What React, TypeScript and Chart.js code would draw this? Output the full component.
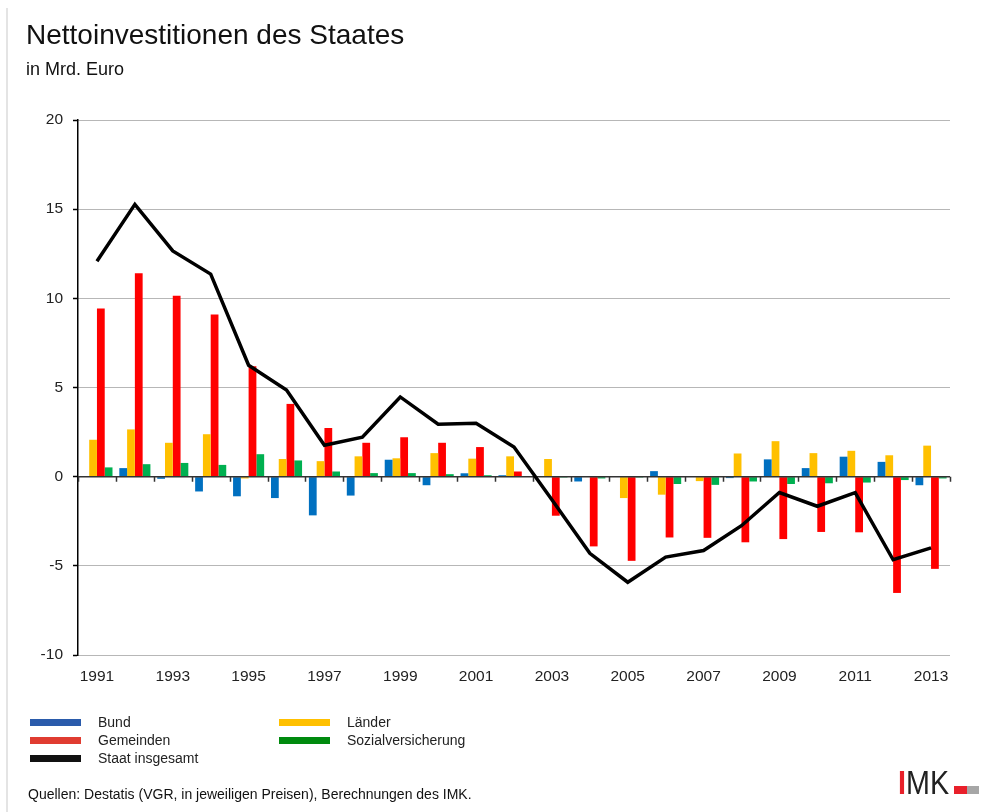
import React, { useEffect, useRef } from "react";
import { Chart, registerables } from "chart.js";

Chart.register(...registerables);

const FONT = '"Liberation Sans", Arial, Helvetica, sans-serif';

const years = [
  "1991", "1992", "1993", "1994", "1995", "1996", "1997", "1998", "1999", "2000",
  "2001", "2002", "2003", "2004", "2005", "2006", "2007", "2008", "2009", "2010",
  "2011", "2012", "2013",
];

const bund = [0, 0.48, -0.12, -0.83, -1.1, -1.2, -2.17, -1.06, 0.95, -0.48, 0.19, 0.08, 0, -0.27, 0, 0.31, 0, -0.08, 0.97, 0.48, 1.12, 0.83, -0.48];
const laender = [2.07, 2.65, 1.9, 2.38, -0.1, 0.99, 0.87, 1.14, 1.03, 1.32, 1.01, 1.14, 0.99, -0.03, -1.2, -1.01, -0.25, 1.3, 1.99, 1.32, 1.45, 1.2, 1.74];
const gemeinden = [9.43, 11.4, 10.14, 9.1, 6.19, 4.08, 2.73, 1.9, 2.21, 1.9, 1.66, 0.29, -2.19, -3.91, -4.72, -3.41, -3.43, -3.68, -3.5, -3.1, -3.12, -6.52, -5.17];
const sozial = [0.52, 0.7, 0.77, 0.66, 1.26, 0.91, 0.29, 0.2, 0.2, 0.14, 0.08, 0.03, -0.05, -0.1, -0.05, -0.41, -0.46, -0.27, -0.41, -0.37, -0.33, -0.19, -0.1];
const staat = [12.08, 15.27, 12.66, 11.36, 6.25, 4.86, 1.76, 2.21, 4.47, 2.94, 3.0, 1.66, -1.3, -4.3, -5.92, -4.51, -4.14, -2.75, -0.89, -1.66, -0.89, -4.66, -3.99];

const yMin = -10;
const yMax = 20;
const yStep = 5;

const title = "Nettoinvestitionen des Staates";
const subtitle = "in Mrd. Euro";
const source = "Quellen: Destatis (VGR, in jeweiligen Preisen), Berechnungen des IMK.";

const barSeries = [
  { label: "Bund", data: bund, color: "#0070C0", legendColor: "#2A5BAB" },
  { label: "Länder", data: laender, color: "#FFC000", legendColor: "#FFC000" },
  { label: "Gemeinden", data: gemeinden, color: "#FF0000", legendColor: "#E03C31" },
  { label: "Sozialversicherung", data: sozial, color: "#00B050", legendColor: "#008A0E" },
];
const lineSeries = { label: "Staat insgesamt", data: staat, color: "#000000", legendColor: "#111111" };

const legendItems = [
  barSeries[0], barSeries[1], barSeries[2], barSeries[3], lineSeries,
];

const zeroAxisPlugin = {
  id: "zeroAxis",
  beforeDatasetDraw(chart: any, args: any) {
    if (args.meta.type !== "line") return;
    const { ctx, chartArea, scales } = chart;
    const x = scales.x;
    const y = scales.y;
    const y0 = y.getPixelForValue(0);
    ctx.save();
    ctx.strokeStyle = "#333333";
    ctx.lineWidth = 1.5;
    ctx.beginPath();
    ctx.moveTo(chartArea.left, y0);
    ctx.lineTo(chartArea.right, y0);
    for (let i = 0; i <= years.length; i++) {
      const px = Math.round(x.getPixelForValue(i - 0.5)) + 0.5;
      ctx.moveTo(px, y0);
      ctx.lineTo(px, y0 + 5);
    }
    ctx.stroke();
    ctx.restore();
  },
};

export default function App() {
  const canvasRef = useRef<HTMLCanvasElement | null>(null);

  useEffect(() => {
    const canvas = canvasRef.current;
    if (!canvas) return;
    const datasets: any[] = barSeries.map((s) => ({
      type: "bar",
      label: s.label,
      data: s.data,
      backgroundColor: s.color,
      borderWidth: 0,
      categoryPercentage: 0.82,
      barPercentage: 1.0,
      order: 1,
    }));
    datasets.push({
      type: "line",
      label: lineSeries.label,
      data: lineSeries.data,
      borderColor: lineSeries.color,
      borderWidth: 3.5,
      pointRadius: 0,
      tension: 0,
      fill: false,
      order: 0,
    });

    const chart = new Chart(canvas, {
      type: "bar",
      data: { labels: years, datasets },
      plugins: [zeroAxisPlugin],
      options: {
        responsive: false,
        animation: false,
        layout: { padding: { left: 0, right: 31, top: 120, bottom: 117 } },
        plugins: {
          legend: { display: false },
          title: { display: false },
          tooltip: { enabled: false },
        },
        scales: {
          x: {
            type: "category",
            offset: true,
            grid: { display: false, drawTicks: false },
            border: { display: false },
            ticks: {
              autoSkip: false,
              maxRotation: 0,
              minRotation: 0,
              padding: 12,
              color: "#222222",
              font: { family: FONT, size: 15.5 },
              callback: function (this: any, value: any, index: number) {
                return index % 2 === 0 ? this.getLabelForValue(value) : "";
              },
            },
            afterFit: (scale: any) => {
              scale.height = 40;
            },
          },
          y: {
            min: yMin,
            max: yMax,
            ticks: {
              stepSize: yStep,
              padding: 10,
              color: "#222222",
              font: { family: FONT, size: 15.5 },
            },
            grid: {
              color: "#6e6e6e",
              lineWidth: 1,
              tickLength: 5,
              tickColor: "#000000",
              tickWidth: 1.5,
            },
            border: { display: true, color: "#000000", width: 1.5, dash: [1, 1] },
            afterFit: (scale: any) => {
              scale.width = 78;
            },
          },
        },
      } as any,
    });
    return () => chart.destroy();
  }, []);

  const legendRowTop = 713;
  const legendRowH = 18.2;

  return (
    <div
      style={{
        position: "absolute",
        left: 0,
        top: 0,
        width: 981,
        height: 812,
        background: "#ffffff",
        fontFamily: FONT,
        color: "#111111",
        overflow: "hidden",
      }}
    >
      <div style={{ position: "absolute", left: 6, top: 8, width: 2, height: 804, background: "#e4e4e4" }} />
      <canvas ref={canvasRef} width={981} height={812} style={{ position: "absolute", left: 0, top: 0 }} />
      <div style={{ position: "absolute", left: 26, top: 21.4, fontSize: 28, lineHeight: 1, whiteSpace: "nowrap" }}>
        {title}
      </div>
      <div style={{ position: "absolute", left: 26, top: 59.8, fontSize: 18, lineHeight: 1, whiteSpace: "nowrap" }}>
        {subtitle}
      </div>
      {legendItems.map((item, i) => {
        const col = i === 4 ? 0 : i % 2;
        const row = i === 4 ? 2 : Math.floor(i / 2);
        const left = col === 0 ? 30 : 279;
        const top = legendRowTop + row * legendRowH;
        return (
          <div
            key={item.label}
            style={{ position: "absolute", left, top, height: 18, display: "flex", alignItems: "center", whiteSpace: "nowrap" }}
          >
            <span style={{ display: "inline-block", width: 51, height: 7, background: item.legendColor, marginRight: 17 }} />
            <span style={{ fontSize: 14, lineHeight: "18px", color: "#222222" }}>{item.label}</span>
          </div>
        );
      })}
      <div style={{ position: "absolute", left: 28, top: 787, fontSize: 14, lineHeight: 1, whiteSpace: "nowrap", color: "#111111" }}>
        {source}
      </div>
      <div
        style={{
          position: "absolute",
          left: 898,
          top: 766.4,
          fontSize: 33,
          lineHeight: 1,
          whiteSpace: "nowrap",
          transform: "scaleX(0.87)",
          transformOrigin: "left top",
          color: "#222222",
        }}
      >
        <span style={{ color: "#E8202A", fontWeight: "bold" }}>I</span>
        <span>MK</span>
      </div>
      <div style={{ position: "absolute", left: 954, top: 786, width: 13, height: 7.5, background: "#E8202A" }} />
      <div style={{ position: "absolute", left: 967, top: 786, width: 12, height: 7.5, background: "#A6A6A6" }} />
    </div>
  );
}
